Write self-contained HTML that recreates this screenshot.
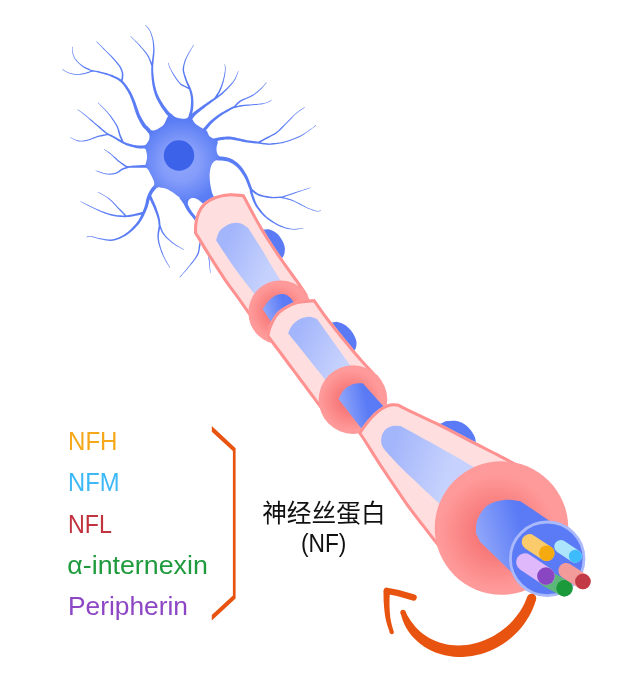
<!DOCTYPE html>
<html lang="zh"><head><meta charset="utf-8"><title>神经丝蛋白 (NF)</title>
<style>html,body{margin:0;padding:0;background:#fff}svg{display:block;will-change:transform}</style></head>
<body><svg width="643" height="699" viewBox="0 0 643 699">
<defs>
<radialGradient id="gs" gradientUnits="userSpaceOnUse" cx="181" cy="162" r="42"><stop offset="0" stop-color="#8FA6FB"/><stop offset="0.45" stop-color="#859DFA"/><stop offset="1" stop-color="#5A7DF5"/></radialGradient>
<linearGradient id="gi1" gradientUnits="userSpaceOnUse" x1="222" y1="250" x2="270" y2="270"><stop offset="0" stop-color="#A3B5FB"/><stop offset="1" stop-color="#C6D2FD"/></linearGradient>
<linearGradient id="gi2" gradientUnits="userSpaceOnUse" x1="295" y1="335" x2="345" y2="358"><stop offset="0" stop-color="#A3B5FB"/><stop offset="1" stop-color="#C6D2FD"/></linearGradient>
<linearGradient id="gi3" gradientUnits="userSpaceOnUse" x1="390" y1="450" x2="450" y2="470"><stop offset="0" stop-color="#A3B5FB"/><stop offset="1" stop-color="#C6D2FD"/></linearGradient>
<radialGradient id="gr1" gradientUnits="userSpaceOnUse" cx="278" cy="311.5" r="32.5"><stop offset="0.3" stop-color="#F77878"/><stop offset="0.85" stop-color="#FF9A9A"/></radialGradient>
<radialGradient id="gr2" gradientUnits="userSpaceOnUse" cx="350.7" cy="400.2" r="35.5"><stop offset="0.3" stop-color="#F77878"/><stop offset="0.85" stop-color="#FF9A9A"/></radialGradient>
<radialGradient id="gr3" gradientUnits="userSpaceOnUse" cx="497" cy="532" r="68"><stop offset="0.3" stop-color="#F77878"/><stop offset="0.85" stop-color="#FF9A9A"/></radialGradient>
<linearGradient id="ga1" gradientUnits="userSpaceOnUse" x1="264" y1="310" x2="284" y2="305"><stop offset="0" stop-color="#8FA5FA"/><stop offset="1" stop-color="#5A7BF5"/></linearGradient>
<linearGradient id="ga2" gradientUnits="userSpaceOnUse" x1="340" y1="400" x2="365" y2="395"><stop offset="0" stop-color="#8FA5FA"/><stop offset="1" stop-color="#5A7BF5"/></linearGradient>
<linearGradient id="ga3" gradientUnits="userSpaceOnUse" x1="478" y1="535" x2="520" y2="522"><stop offset="0" stop-color="#8FA5FA"/><stop offset="1" stop-color="#5A7BF5"/></linearGradient>
</defs>
<rect width="643" height="699" fill="#fff"/>
<path fill="#5A7DF5" d="M152.5 131.7L152 131.2L151.4 130.5L150.6 129.7L149.8 128.8L149.1 127.9L148.4 127.2L147.8 126.6L147.2 126.1L146.7 125.7L146.3 125.3L145.9 124.9L145.5 124.3L145 123.6L144.4 122.7L143.8 121.7L143.2 120.7L142.6 119.7L142 118.7L141.5 117.8L141.1 117L140.7 116.3L140.3 115.5L139.8 114.4L139.2 113L138.5 111.1L137.7 108.8L136.8 106.2L135.9 103.6L134.9 101.1L134.1 99L133.4 97.2L132.7 95.7L132.1 94.3L131.4 93L130.7 91.7L129.8 90.2L128.8 88.7L127.7 87.1L126.6 85.4L125.3 83.7L124 82.2L122.5 80.8L121 79.6L119.5 78.5L117.8 77.6L116.1 76.7L114.4 75.9L112.6 75.1L110.6 74.4L108.4 73.7L106.2 73.1L104 72.5L101.9 72L100 71.5L98.2 71.1L96.4 70.7L94.7 70.4L93.3 70.2L92 70L91.1 69.8L90.9 71L91.8 71.2L93 71.4L94.5 71.7L96.1 72.1L97.9 72.5L99.6 72.9L101.5 73.4L103.6 74L105.7 74.7L107.9 75.3L109.9 76.1L111.8 76.9L113.6 77.7L115.3 78.5L116.8 79.3L118.3 80.3L119.7 81.3L121.1 82.4L122.3 83.7L123.5 85.2L124.6 86.7L125.7 88.4L126.7 90L127.6 91.6L128.4 92.9L129.1 94.2L129.7 95.5L130.2 96.8L130.8 98.3L131.5 100L132.2 102.1L133.1 104.6L133.9 107.2L134.7 109.8L135.5 112.2L136.2 114.2L136.8 115.7L137.2 116.9L137.7 117.8L138.1 118.6L138.5 119.4L139 120.3L139.5 121.4L140.1 122.4L140.7 123.5L141.3 124.6L141.9 125.6L142.5 126.5L143.1 127.2L143.7 127.9L144.2 128.4L144.7 128.8L145.1 129.3L145.6 129.8L146.2 130.5L147 131.3L147.7 132.2L148.5 133.1L149.1 133.8L149.5 134.3ZM91.3 69.8L90.3 69.4L89 68.8L87.4 68.1L85.7 67.3L84.1 66.5L82.6 65.6L81.3 64.5L79.9 63.4L78.5 62.2L77.3 60.9L76.2 59.6L75.2 58.4L74.5 57.1L74 55.9L73.5 54.6L73.2 53.3L72.9 52.1L72.7 51L72.5 50.1L72.5 49.2L72.5 48.4L72.6 47.8L72.6 47.2L72.6 46.7L72.2 46.7L72.1 47.1L72 47.7L72 48.4L71.9 49.2L72 50.2L72.1 51.2L72.3 52.2L72.5 53.4L72.8 54.8L73.3 56.1L73.8 57.5L74.6 58.8L75.5 60.1L76.6 61.5L77.9 62.8L79.2 64.1L80.6 65.3L82 66.4L83.5 67.4L85.2 68.4L86.9 69.2L88.4 69.9L89.8 70.5L90.7 71ZM92.8 70.2L91.9 70.6L90.7 71L89.3 71.6L87.7 72.1L86.1 72.6L84.7 73L83.3 73.3L81.8 73.5L80.4 73.8L78.9 73.9L77.5 74L76.1 74L74.8 73.9L73.6 73.8L72.3 73.6L71.2 73.3L70 73L68.8 72.6L67.6 72.1L66.3 71.4L65.1 70.7L63.9 69.9L62.9 69.3L62.2 68.9L62 69.3L62.7 69.8L63.6 70.4L64.8 71.2L66 71.9L67.3 72.6L68.6 73.2L69.8 73.6L71 74L72.2 74.3L73.5 74.5L74.7 74.7L76.1 74.8L77.5 74.8L79 74.8L80.4 74.7L82 74.5L83.5 74.3L84.9 74L86.4 73.6L88 73.2L89.6 72.6L91.1 72.1L92.3 71.7L93.2 71.4ZM122.5 82.3L122.6 81.5L122.8 80.2L123.1 78.8L123.3 77.2L123.4 75.6L123.4 74.1L123.2 72.8L122.8 71.5L122.4 70.2L121.9 69.1L121.4 68L120.9 67L120.5 66.2L120 65.5L119.6 64.9L119.1 64.4L118.6 63.8L118 63.1L117.3 62.2L116.5 61.3L115.7 60.3L114.7 59.3L113.7 58.1L112.6 56.9L111.3 55.6L109.8 54.2L108.3 52.7L106.7 51.2L105.2 49.7L103.8 48.3L102.4 47L101 45.6L99.6 44.2L98.4 43L97.3 42L96.6 41.2L96.2 41.6L97 42.4L98 43.4L99.2 44.7L100.5 46.1L101.9 47.5L103.2 48.9L104.6 50.3L106.1 51.8L107.6 53.3L109.2 54.9L110.6 56.3L111.8 57.7L112.9 58.9L113.9 60L114.8 61.1L115.6 62.1L116.3 63L117 63.9L117.6 64.7L118.1 65.3L118.6 65.8L118.9 66.3L119.3 66.9L119.7 67.6L120.1 68.5L120.6 69.6L121 70.7L121.4 71.9L121.7 73.1L121.8 74.3L121.8 75.5L121.7 77L121.4 78.5L121.1 79.9L120.9 81.2L120.7 82.1ZM173 115L172.5 114.7L172 114.4L171.4 114L170.7 113.6L170 113.1L169.3 112.3L168.4 111.3L167.4 110.1L166.3 108.6L165.1 107.1L164 105.6L163 104.1L162.1 102.5L161.1 101L160.2 99.3L159.3 97.7L158.5 96.1L157.8 94.5L157.2 92.9L156.6 91.3L156.1 89.7L155.7 88L155.3 86.4L154.9 84.8L154.6 83.1L154.3 81.5L154.1 79.8L153.9 78.2L153.7 76.5L153.6 74.9L153.4 73.4L153.3 72.1L153.2 70.8L153.2 69.4L153.2 67.9L153.2 66.1L153.4 63.9L153.6 61.4L153.9 58.8L154.2 56.1L154.4 53.5L154.5 51.1L154.5 49L154.4 47L154.2 45.1L154 43.3L153.7 41.5L153.4 39.8L153 38.1L152.5 36.4L152 34.8L151.4 33.2L150.8 31.8L150.1 30.4L149.4 29.2L148.5 28.1L147.6 27L146.8 26.1L146.1 25.4L145.6 24.8L145.2 25.2L145.7 25.7L146.4 26.5L147.2 27.4L148 28.4L148.8 29.6L149.5 30.8L150.1 32.1L150.6 33.5L151.2 35L151.6 36.7L152.1 38.3L152.4 40L152.7 41.7L152.9 43.4L153 45.2L153.1 47.1L153.2 49L153.1 51.1L152.9 53.4L152.6 55.9L152.3 58.6L151.9 61.2L151.6 63.7L151.4 65.9L151.3 67.8L151.2 69.4L151.2 70.8L151.3 72.2L151.3 73.6L151.4 75.1L151.5 76.7L151.6 78.4L151.8 80.1L152 81.8L152.2 83.5L152.5 85.2L152.8 86.9L153.2 88.6L153.6 90.3L154.1 92.1L154.6 93.8L155.2 95.5L155.9 97.3L156.7 99L157.6 100.7L158.5 102.4L159.4 104.1L160.4 105.7L161.4 107.4L162.5 109L163.6 110.6L164.7 112.1L165.7 113.5L166.7 114.7L167.7 115.6L168.6 116.4L169.4 117L170.1 117.5L170.7 117.8L171 118ZM153 66.8L153 66.5L152.9 66.1L152.7 65.6L152.5 65L152.2 64.2L151.9 63.2L151.4 62.1L150.9 60.8L150.3 59.3L149.6 57.8L148.8 56.1L147.8 54.5L146.6 52.8L145.1 51L143.6 49.2L142 47.4L140.4 45.6L138.9 44L137.4 42.5L135.8 40.9L134.2 39.4L132.8 38L131.6 36.9L130.7 36L130.3 36.4L131.2 37.2L132.4 38.4L133.8 39.8L135.3 41.4L136.8 43L138.3 44.6L139.7 46.2L141.3 48L142.8 49.8L144.3 51.7L145.7 53.5L146.8 55.1L147.7 56.7L148.5 58.3L149.1 59.8L149.6 61.3L150.1 62.6L150.5 63.8L150.9 64.7L151.1 65.4L151.3 66L151.4 66.5L151.5 66.9L151.6 67.2ZM190.7 118.9L191 118L191.3 116.7L191.8 115.1L192.2 113.5L192.6 111.8L192.9 110.2L193.1 108.8L193.3 107.4L193.4 106L193.4 104.6L193.4 103.3L193.4 102L193.4 100.7L193.3 99.5L193.2 98.3L193.1 97.1L192.9 95.9L192.7 94.8L192.5 93.7L192.2 92.6L191.9 91.6L191.5 90.6L191.2 89.5L190.7 88.3L190.2 87.1L189.7 85.8L189 84.5L188.4 83.2L187.8 81.9L187.3 80.7L186.8 79.5L186.4 78.3L186 77.1L185.6 76L185.2 74.9L184.9 73.8L184.6 72.8L184.4 72L184.2 71.3L184.1 70.5L184 69.7L184.1 68.6L184.2 67.2L184.4 65.8L184.7 64.2L185.2 62.5L185.7 60.7L186.5 58.8L187.5 56.6L188.8 54L190.3 51.3L191.7 48.8L193 46.6L193.8 45L193.4 44.8L192.5 46.3L191.2 48.4L189.6 50.9L188.1 53.6L186.7 56.2L185.5 58.4L184.7 60.3L184.1 62.2L183.6 63.9L183.2 65.5L182.9 67.1L182.7 68.4L182.6 69.6L182.7 70.7L182.8 71.6L183 72.4L183.2 73.2L183.5 74.2L183.7 75.3L184.1 76.4L184.4 77.6L184.8 78.8L185.2 80.1L185.7 81.3L186.2 82.6L186.7 83.9L187.3 85.3L187.9 86.6L188.4 87.9L188.9 89.1L189.2 90.2L189.6 91.2L189.9 92.2L190.1 93.2L190.3 94.2L190.5 95.2L190.7 96.3L190.8 97.4L190.9 98.5L191 99.6L191 100.8L191 102L191 103.2L190.9 104.5L190.8 105.8L190.7 107.1L190.5 108.4L190.3 109.8L190 111.2L189.5 112.7L189 114.4L188.6 115.9L188.2 117.2L187.9 118.1ZM190.1 88.2L189.6 88L188.9 87.6L188 87.2L187.1 86.8L186.2 86.3L185.3 85.9L184.5 85.5L183.7 85.1L182.9 84.8L182.1 84.3L181.3 83.8L180.4 83L179.4 81.9L178.3 80.5L177.2 79L176.1 77.4L175 75.8L174.1 74.5L173.3 73.2L172.6 72L171.9 70.9L171.3 69.8L170.8 68.8L170.3 67.8L169.9 66.8L169.5 65.8L169.1 64.9L168.9 64L168.6 63.3L168.4 62.8L168 63L168.1 63.5L168.3 64.2L168.6 65.1L168.9 66L169.3 67L169.7 68L170.2 69.1L170.7 70.1L171.2 71.2L171.9 72.4L172.6 73.7L173.3 74.9L174.2 76.4L175.2 77.9L176.3 79.6L177.5 81.2L178.5 82.6L179.6 83.8L180.5 84.7L181.4 85.4L182.3 85.9L183.1 86.3L183.9 86.7L184.7 87.1L185.5 87.6L186.5 88.1L187.4 88.6L188.2 89L188.9 89.3L189.5 89.6ZM191 121.1L191.5 120.5L192 119.6L192.7 118.6L193.5 117.5L194.2 116.5L194.9 115.7L195.6 115L196.2 114.4L196.9 113.8L197.6 113.2L198.5 112.5L199.5 111.7L200.7 110.7L202.1 109.6L203.6 108.4L205.1 107.2L206.6 106.1L208 105L209.4 104L210.8 102.9L212.2 101.8L213.5 100.9L214.6 100.1L215.4 99.5L214.2 97.9L213.4 98.4L212.3 99.2L211 100L209.5 101L208 102L206.6 103L205.1 104L203.6 105.1L202 106.2L200.4 107.3L198.9 108.4L197.7 109.3L196.6 110L195.7 110.7L194.9 111.3L194.1 111.9L193.3 112.6L192.5 113.3L191.6 114.3L190.7 115.4L189.8 116.4L189.1 117.5L188.4 118.3L188 118.9ZM215.6 99.2L216.1 98.3L216.9 97.2L217.8 95.7L218.7 94.1L219.7 92.5L220.5 90.8L221.2 89.2L221.8 87.4L222.5 85.6L223 83.8L223.6 81.9L224 80.1L224.4 78.3L224.8 76.5L225.1 74.7L225.4 72.9L225.5 71.3L225.7 69.8L225.7 68.5L225.6 67.4L225.4 66.3L225.2 65.4L225 64.7L224.9 64.2L224.5 64.2L224.5 64.8L224.7 65.5L224.8 66.4L224.9 67.4L225 68.5L224.9 69.8L224.8 71.2L224.5 72.8L224.2 74.5L223.9 76.3L223.4 78.1L223 79.9L222.4 81.6L221.9 83.4L221.2 85.2L220.6 86.9L219.8 88.6L219.1 90.2L218.3 91.7L217.3 93.3L216.3 94.8L215.4 96.2L214.6 97.3L214 98.2ZM214 100.5L214.4 100.2L215 99.8L215.6 99.4L216.3 98.9L217.1 98.3L217.8 97.8L218.5 97.3L219.2 96.7L220 96.1L220.8 95.5L221.7 94.7L222.7 93.9L223.8 92.8L225.1 91.6L226.4 90.3L227.7 88.9L229 87.6L230.1 86.4L231.1 85.3L232 84.3L232.8 83.2L233.6 82.2L234.3 81.1L235.1 79.9L235.8 78.5L236.5 76.8L237.2 75.1L237.8 73.5L238.3 72.1L238.6 71.1L238.2 70.9L237.8 71.9L237.2 73.2L236.6 74.8L235.8 76.5L235.1 78.1L234.3 79.5L233.6 80.6L232.8 81.7L232.1 82.6L231.2 83.6L230.3 84.6L229.3 85.6L228.1 86.8L226.9 88L225.5 89.3L224.1 90.6L222.8 91.7L221.7 92.7L220.7 93.6L219.8 94.3L219 94.8L218.3 95.4L217.5 95.9L216.8 96.4L216.1 96.9L215.3 97.4L214.6 97.9L213.9 98.3L213.4 98.7L213 98.9ZM200.4 137.1L200.7 136.7L201.2 136.2L201.7 135.5L202.2 134.8L202.8 134.1L203.3 133.4L203.8 132.8L204.2 132.3L204.7 131.8L205.2 131.2L205.8 130.5L206.6 129.6L207.5 128.5L208.5 127.3L209.6 126L210.7 124.6L212 123.3L213.3 122.1L214.6 120.8L216.1 119.6L217.7 118.3L219.3 117.1L221 115.8L222.8 114.6L224.8 113.3L227.2 112L229.6 110.6L231.8 109.3L233.7 108.3L235.1 107.5L234.3 105.9L232.9 106.6L230.9 107.6L228.6 108.8L226.1 110.1L223.7 111.4L221.6 112.6L219.7 113.8L217.9 115L216.1 116.2L214.4 117.5L212.9 118.7L211.3 119.9L209.9 121.3L208.6 122.6L207.3 124L206.1 125.3L205.1 126.4L204.2 127.4L203.4 128.2L202.8 128.9L202.2 129.5L201.7 130.1L201.2 130.6L200.7 131.2L200.1 131.9L199.5 132.6L198.9 133.3L198.4 133.9L197.9 134.5L197.6 134.9ZM235.3 107.2L235.8 106.6L236.4 105.8L237.2 104.9L238.1 103.9L239.1 102.9L240.4 101.9L242 101L244 100L246.2 99L248.5 98L250.7 96.9L252.7 95.9L254.4 94.7L256 93.6L257.5 92.4L258.9 91.2L260.1 90L261.4 88.9L262.5 87.7L263.6 86.5L264.6 85.3L265.4 84.2L266.2 83.2L266.7 82.6L266.3 82.2L265.7 82.9L265 83.8L264.1 84.9L263.1 86L262 87.2L260.8 88.3L259.6 89.4L258.3 90.5L256.9 91.7L255.4 92.8L253.8 93.9L252.1 94.9L250.2 95.9L248 96.9L245.7 97.9L243.5 98.8L241.4 99.7L239.6 100.7L238.2 101.7L237 102.8L236 103.9L235.2 104.8L234.6 105.6L234.1 106.2ZM232.7 108.6L233.7 108.3L235.1 108L236.8 107.6L238.6 107.1L240.5 106.7L242.2 106.4L243.8 106.1L245.5 106L247.1 105.8L248.8 105.7L250.6 105.5L252.5 105.3L254.5 105.1L256.7 104.9L258.9 104.6L261.1 104.4L263.2 104L265 103.6L266.6 103.1L268 102.5L269.2 101.8L270.3 101.2L271.2 100.6L271.8 100.2L271.6 99.8L270.9 100.2L270 100.7L268.9 101.3L267.7 101.9L266.3 102.5L264.8 103L263.1 103.3L261 103.5L258.8 103.8L256.6 103.9L254.4 104.1L252.3 104.3L250.5 104.4L248.7 104.5L247 104.6L245.3 104.7L243.7 104.8L242 105L240.2 105.3L238.3 105.7L236.5 106.1L234.8 106.4L233.3 106.8L232.3 107ZM211.6 143L212.2 142.8L212.9 142.5L213.8 142.1L214.7 141.7L215.6 141.4L216.4 141.1L217.2 140.9L217.9 140.7L218.7 140.5L219.5 140.4L220.3 140.2L221.4 140.1L222.6 139.9L223.9 139.8L225.4 139.6L226.8 139.5L228.2 139.4L229.6 139.4L231 139.5L232.4 139.7L233.8 139.9L235.2 140.2L236.7 140.5L238.1 140.7L239.6 141L241 141.3L242.4 141.7L243.9 142L245.5 142.3L247.1 142.5L249 142.8L251.2 143L253.4 143.2L255.4 143.4L257.2 143.5L258.4 143.6L258.6 141.6L257.4 141.5L255.6 141.3L253.6 141.1L251.4 140.8L249.3 140.5L247.5 140.3L245.9 140L244.4 139.6L243 139.3L241.5 138.9L240.1 138.6L238.7 138.3L237.2 137.9L235.7 137.6L234.3 137.3L232.8 137L231.3 136.8L229.8 136.6L228.2 136.6L226.6 136.6L225.1 136.7L223.6 136.8L222.2 137L221 137.1L219.9 137.2L219 137.4L218.1 137.5L217.2 137.7L216.4 137.9L215.6 138.1L214.6 138.4L213.6 138.7L212.6 139.1L211.7 139.5L210.9 139.8L210.4 140ZM258.9 143.4L259.5 143L260.3 142.6L261.2 142L262.2 141.4L263.3 140.8L264.4 140.2L265.5 139.6L266.8 138.9L268.1 138.2L269.5 137.5L270.8 136.8L271.9 136.1L272.9 135.6L273.8 135.2L274.6 134.8L275.5 134.3L276.5 133.6L277.7 132.6L279.2 131.3L280.8 129.7L282.5 127.9L284.3 126L286 124.2L287.7 122.5L289.2 121L290.6 119.4L292 117.9L293.4 116.5L294.8 115.1L296.2 113.8L297.8 112.5L299.4 111.3L301.1 110.1L302.6 109L303.9 108.2L304.8 107.5L304.6 107.1L303.6 107.7L302.3 108.6L300.7 109.6L299 110.8L297.3 112L295.8 113.2L294.3 114.5L292.9 115.9L291.4 117.3L290 118.8L288.5 120.3L286.9 121.9L285.3 123.5L283.5 125.3L281.7 127.1L279.9 128.8L278.3 130.4L276.9 131.6L275.7 132.5L274.8 133.1L274 133.6L273.2 133.9L272.3 134.3L271.3 134.9L270.1 135.5L268.8 136.2L267.4 136.8L266.1 137.5L264.8 138.2L263.6 138.8L262.5 139.4L261.4 140L260.4 140.6L259.4 141.1L258.6 141.5L258.1 141.8ZM254.9 143.2L255.9 143.3L257.2 143.5L258.9 143.8L260.6 144.1L262.4 144.3L263.9 144.5L265.2 144.6L266.4 144.7L267.5 144.8L268.7 144.9L270.1 144.8L271.7 144.7L273.5 144.5L275.6 144.3L277.8 144L280.1 143.6L282.5 143.2L284.9 142.6L287.3 141.8L289.8 141L292.4 140.1L295 139L297.5 138L299.8 136.9L302 135.7L304 134.4L306 133.1L307.9 131.8L309.5 130.6L311 129.6L312.2 128.6L313.3 127.8L314.2 127.1L315 126.4L315.6 125.9L316.1 125.5L315.7 125.1L315.3 125.5L314.6 126L313.9 126.6L313 127.4L311.9 128.2L310.6 129L309.1 130.1L307.5 131.2L305.6 132.5L303.6 133.8L301.5 135L299.4 136.1L297.1 137.1L294.7 138.1L292.1 139.1L289.5 140L287 140.8L284.5 141.4L282.2 142L279.9 142.4L277.6 142.7L275.4 143L273.4 143.1L271.5 143.3L270 143.4L268.7 143.4L267.6 143.3L266.5 143.2L265.4 143.1L264.1 142.9L262.6 142.7L260.9 142.4L259.2 142.2L257.5 141.9L256.1 141.6L255.1 141.4ZM212.9 160.1L213.4 160.2L214.1 160.2L214.9 160.2L215.9 160.3L217 160.3L218.2 160.5L219.7 160.6L221.4 160.6L223.1 160.7L224.9 160.9L226.5 161.2L228.1 161.6L229.6 162.2L231.1 162.9L232.6 163.7L234 164.7L235.4 165.8L236.8 166.9L238.1 168.3L239.4 169.8L240.7 171.5L241.9 173.2L243.1 175L244.1 176.7L245.1 178.5L246 180.5L246.8 182.5L247.6 184.5L248.3 186.2L248.8 187.7L249.3 188.8L249.6 189.6L249.8 190.2L250 190.7L250.2 191.1L250.3 191.4L252.7 190.6L252.6 190.2L252.5 189.9L252.3 189.4L252.1 188.7L251.8 187.8L251.4 186.7L250.9 185.3L250.2 183.5L249.5 181.5L248.7 179.4L247.8 177.3L246.9 175.3L245.8 173.4L244.6 171.5L243.4 169.6L242.1 167.7L240.7 166L239.2 164.5L237.7 163.1L236.1 161.8L234.5 160.7L232.8 159.6L231.1 158.8L229.3 158L227.4 157.4L225.4 157L223.5 156.8L221.6 156.6L220 156.5L218.6 156.3L217.3 156.2L216.2 156.1L215.2 156L214.3 155.9L213.6 155.9L213.1 155.9ZM249.9 189.6L250.7 190.2L251.8 191.2L253.1 192.3L254.6 193.5L256.3 194.6L258.1 195.5L260.1 196.2L262.3 196.8L264.7 197.3L267.1 197.7L269.4 198L271.5 198.2L273.7 198.3L275.9 198.2L278.1 198L280 197.8L281.7 197.6L282.9 197.5L282.7 196.3L281.5 196.4L279.9 196.5L278 196.7L275.9 196.8L273.7 196.9L271.7 196.8L269.6 196.5L267.3 196.1L265 195.7L262.8 195.2L260.7 194.5L258.9 193.9L257.3 193L255.8 192L254.4 190.8L253.1 189.7L252.1 188.7L251.3 188ZM283 197.5L284.6 196.9L286.9 196.1L289.6 195.2L292.5 194.2L295.3 193.2L297.8 192.3L300.3 191.5L302.8 190.6L305.3 189.7L307.6 189L309.5 188.3L310.9 187.8L310.7 187.4L309.3 187.8L307.4 188.4L305.1 189.1L302.6 189.9L300 190.7L297.6 191.5L295 192.3L292.2 193.2L289.3 194.2L286.6 195.1L284.3 195.8L282.6 196.3ZM279.9 197.8L281.2 198.1L282.9 198.4L285 198.8L287.3 199.4L289.6 200L291.9 200.8L294.3 201.8L296.9 203L299.5 204.4L302.1 205.7L304.6 207L306.8 208L308.8 208.9L310.6 209.6L312.2 210.2L313.7 210.7L315.1 211.1L316.3 211.4L317.5 211.5L318.5 211.4L319.3 211.3L320.1 211.1L320.6 210.9L321.1 210.7L320.9 210.3L320.5 210.4L319.9 210.6L319.2 210.8L318.4 210.9L317.5 210.9L316.5 210.8L315.3 210.5L313.9 210.1L312.5 209.6L310.8 209L309.1 208.2L307.2 207.4L305 206.3L302.5 205L299.9 203.6L297.3 202.2L294.7 200.9L292.3 199.8L289.9 199L287.5 198.3L285.2 197.7L283.2 197.3L281.4 196.9L280.1 196.6ZM249.6 189.2L249.6 189.7L249.7 190.4L249.9 191.4L250.1 192.4L250.4 193.7L250.9 195.1L251.4 196.6L252.1 198.4L252.8 200.4L253.7 202.4L254.7 204.5L255.8 206.4L257.1 208.3L258.6 210.3L260.1 212.2L261.8 214.1L263.6 215.9L265.5 217.6L267.5 219.2L269.7 220.8L271.9 222.2L274.3 223.6L276.6 224.9L278.8 225.9L281.1 226.9L283.3 227.7L285.6 228.4L287.8 228.9L290 229.3L292.1 229.6L294.2 229.7L296.4 229.5L298.6 229.3L300.5 228.9L302.1 228.6L303.3 228.4L303.3 228L302.1 228.1L300.4 228.4L298.5 228.6L296.4 228.8L294.2 228.9L292.1 228.8L290.1 228.5L288 228L285.9 227.4L283.7 226.7L281.5 225.8L279.4 224.9L277.2 223.7L274.9 222.5L272.7 221.1L270.5 219.6L268.4 218L266.5 216.4L264.8 214.7L263.1 212.9L261.5 211L260.1 209.1L258.7 207.2L257.6 205.4L256.5 203.5L255.6 201.5L254.9 199.6L254.2 197.7L253.6 195.9L253.1 194.3L252.7 193L252.5 191.9L252.3 190.9L252.2 190.1L252.1 189.4L252 188.8ZM150 145.4L148.6 145.4L146.7 145.5L144.5 145.5L142.1 145.6L139.9 145.5L137.9 145.4L136.2 145.2L134.6 145L133 144.7L131.5 144.3L130.1 143.9L128.8 143.6L127.6 143.2L126.6 142.9L125.6 142.5L124.7 142.1L123.8 141.7L122.7 141.2L121.5 140.5L120.2 139.8L118.9 139L117.6 138.2L116.2 137.4L114.8 136.6L113.4 135.9L111.9 135.1L110.4 134.4L109 133.8L107.9 133.2L107 132.8L106.4 134.2L107.2 134.6L108.3 135.2L109.7 135.9L111.2 136.7L112.6 137.4L114 138.2L115.2 139L116.5 139.8L117.9 140.7L119.2 141.5L120.5 142.3L121.7 143L122.8 143.6L123.8 144.1L124.8 144.6L125.7 145L126.8 145.4L128 145.8L129.4 146.3L130.9 146.7L132.4 147.1L134.1 147.5L135.8 147.9L137.7 148.2L139.7 148.4L142.1 148.5L144.5 148.5L146.7 148.6L148.6 148.6L150 148.6ZM107.2 132.9L106 131.9L104.4 130.5L102.4 128.9L100.3 127.1L98.2 125.4L96.2 123.7L94.3 122.2L92.4 120.6L90.5 118.9L88.6 117.4L86.8 115.9L85.1 114.6L83.6 113.4L82.1 112.3L80.6 111.3L79.4 110.5L78.3 109.7L77.5 109.2L77.3 109.6L78 110.2L79.1 110.9L80.3 111.8L81.7 112.8L83.1 114L84.7 115.2L86.2 116.6L88 118.1L89.8 119.7L91.7 121.4L93.6 123L95.4 124.7L97.3 126.3L99.4 128.2L101.5 130L103.4 131.7L105 133.1L106.2 134.1ZM124 142.3L123.6 141.5L123.1 140.4L122.5 139.1L121.9 137.7L121.2 136.3L120.6 134.8L120.2 133.5L119.8 132.1L119.4 130.6L118.9 129L118.2 127.3L117.4 125.5L116.2 123.6L114.9 121.5L113.4 119.3L111.8 117.1L110.2 115L108.5 113L106.8 111L104.8 109L102.8 107L101 105.2L99.4 103.7L98.3 102.6L97.9 103L99 104.1L100.6 105.7L102.4 107.5L104.3 109.5L106.2 111.6L107.9 113.6L109.4 115.6L111 117.7L112.5 119.9L113.9 122.1L115.2 124.2L116.2 126.1L117 127.8L117.6 129.4L118 130.9L118.3 132.4L118.7 133.9L119.2 135.4L119.7 136.9L120.4 138.4L121 139.8L121.6 141.1L122 142.3L122.4 143.1ZM108.3 133.5L107.1 133.8L105.4 134.2L103.3 134.6L101.2 135.1L99 135.6L97.1 136.1L95.4 136.7L93.8 137.3L92.3 138L90.8 138.6L89.4 139.2L87.9 139.6L86.3 140L84.8 140.3L83.3 140.6L81.7 140.7L80.2 140.7L78.8 140.6L77.2 140.3L75.6 139.7L73.9 139L72.4 138.2L71.1 137.6L70.2 137.2L70 137.6L70.9 138.1L72.2 138.8L73.7 139.5L75.3 140.3L77 141L78.6 141.4L80.2 141.5L81.8 141.5L83.4 141.4L85 141.2L86.5 140.9L88.1 140.6L89.7 140.2L91.2 139.6L92.7 139L94.3 138.4L95.8 137.8L97.5 137.3L99.3 136.8L101.4 136.4L103.6 136L105.7 135.6L107.4 135.3L108.7 135.1ZM151 164.7L149.5 164.8L147.5 164.9L145.1 165L142.5 165.1L140 165.2L137.8 165.3L135.7 165.5L133.5 165.6L131.5 165.8L129.6 165.9L128 166L126.9 166.1L126.9 167.9L128.1 167.9L129.7 167.8L131.6 167.8L133.6 167.7L135.8 167.7L137.8 167.7L140.1 167.7L142.5 167.7L145.1 167.7L147.5 167.7L149.6 167.7L151 167.7ZM127.4 166.3L126.5 165.7L125.3 164.9L123.9 164L122.4 163L120.9 162L119.5 161L118.2 159.9L116.9 158.8L115.6 157.6L114.2 156.4L112.9 155.2L111.6 154.2L110.2 153.1L108.8 152.1L107.4 151.1L106 150.2L104.9 149.4L104.1 148.9L103.9 149.3L104.6 149.9L105.7 150.7L107 151.6L108.3 152.7L109.7 153.8L111 154.8L112.3 156L113.5 157.2L114.8 158.4L116.1 159.7L117.4 160.9L118.7 162L120.1 163.1L121.6 164.3L123 165.3L124.4 166.3L125.6 167.1L126.4 167.7ZM128.7 166.2L128 166.4L127 166.7L125.7 167.1L124.4 167.6L123.1 168.1L121.9 168.6L120.8 169.3L119.8 170L118.8 170.8L117.9 171.5L116.9 172.1L115.8 172.6L114.5 173L113.1 173.3L111.6 173.5L110 173.6L108.4 173.7L106.8 173.5L104.9 173.2L102.8 172.7L100.6 172L98.6 171.3L96.8 170.8L95.6 170.4L95.4 170.8L96.7 171.3L98.4 171.9L100.4 172.7L102.6 173.4L104.7 174L106.6 174.5L108.4 174.6L110.1 174.7L111.7 174.6L113.3 174.4L114.8 174.1L116.2 173.8L117.5 173.3L118.6 172.6L119.7 171.9L120.6 171.2L121.6 170.5L122.5 170L123.7 169.5L124.9 169.1L126.2 168.7L127.5 168.3L128.5 168.1L129.3 167.8ZM156.6 182.6L155.9 183.3L155 184.3L153.9 185.5L152.7 186.8L151.6 188.1L150.6 189.4L149.8 190.8L149.1 192.1L148.4 193.4L147.8 194.8L147.3 196.1L146.8 197.4L146.4 198.8L146.1 200.1L145.9 201.3L145.6 202.5L145.4 203.7L145 205L144.6 206.4L144.1 208L143.5 209.5L142.9 211.1L142.3 212.6L141.5 214.2L140.8 215.7L140.1 217.3L139.3 218.7L138.5 220.2L137.5 221.8L136.3 223.3L134.8 225L133.1 226.8L131.3 228.7L129.4 230.5L127.4 232.2L125.5 233.6L123.5 234.9L121.4 236.1L119.2 237.2L117.1 238.1L114.9 238.8L112.8 239.3L110.7 239.5L108.5 239.5L106.3 239.3L104.1 238.9L102 238.5L100 238.2L98.2 237.9L96.4 237.5L94.8 237L93.2 236.5L91.8 236.2L90.5 236L89.4 236L88.5 236.1L87.8 236.3L87.2 236.6L86.7 236.8L86.3 237L86.5 237.4L86.9 237.3L87.4 237.1L88 236.9L88.6 236.7L89.5 236.6L90.5 236.6L91.6 236.9L93 237.2L94.5 237.7L96.2 238.3L98 238.8L99.8 239.2L101.8 239.6L103.9 240L106.1 240.4L108.4 240.7L110.7 240.9L113 240.7L115.3 240.2L117.6 239.6L119.9 238.7L122.2 237.6L124.4 236.5L126.5 235.2L128.6 233.7L130.8 232.1L132.8 230.3L134.8 228.4L136.5 226.6L138.1 224.9L139.5 223.2L140.6 221.6L141.6 220L142.5 218.5L143.3 216.9L144.1 215.4L144.8 213.8L145.6 212.2L146.3 210.6L146.9 209L147.5 207.4L148 206L148.4 204.6L148.8 203.2L149 202L149.3 200.8L149.6 199.7L150 198.6L150.5 197.4L151 196.2L151.6 194.9L152.2 193.8L152.9 192.6L153.6 191.6L154.5 190.5L155.5 189.3L156.7 188.1L157.8 187L158.7 186.1L159.4 185.4ZM144 211.5L142.8 211.8L141.2 212.2L139.2 212.8L137.1 213.3L135.1 213.8L133.3 214.2L131.7 214.5L130.2 214.8L128.8 215.1L127.4 215.3L125.8 215.4L124.1 215.4L122.2 215.4L120.2 215.3L118 215.2L115.8 214.9L113.6 214.6L111.3 214.1L108.9 213.5L106.5 212.7L104 211.8L101.4 210.9L98.9 209.8L96.3 208.8L93.5 207.5L90.5 206.1L87.4 204.6L84.6 203.2L82.2 202L80.4 201.2L80.2 201.6L81.9 202.5L84.3 203.8L87.1 205.3L90.1 206.8L93.1 208.3L95.9 209.6L98.5 210.8L101 211.9L103.6 213L106.1 213.9L108.5 214.8L110.9 215.5L113.3 216L115.6 216.5L117.9 216.8L120.1 217L122.1 217.1L124.1 217.2L125.9 217.2L127.5 217.1L129.1 216.9L130.6 216.7L132.1 216.5L133.7 216.2L135.6 215.8L137.6 215.4L139.8 214.9L141.7 214.4L143.4 214L144.6 213.7ZM126.5 215.5L125.7 214.7L124.6 213.6L123.3 212.3L121.9 210.8L120.4 209.3L118.9 207.9L117.5 206.4L116 204.8L114.4 203.2L112.8 201.6L111.2 200L109.5 198.6L107.5 197.2L105.4 195.9L103.2 194.6L101.1 193.4L99.4 192.5L98.1 191.8L97.9 192.2L99.1 193L100.8 194L102.9 195.1L105 196.5L107.1 197.8L108.9 199.2L110.6 200.7L112.2 202.2L113.7 203.9L115.2 205.6L116.7 207.2L118.1 208.7L119.5 210.2L121 211.7L122.4 213.2L123.6 214.5L124.7 215.7L125.5 216.5ZM148 195.6L148.6 197L149.5 198.8L150.6 201L151.7 203.4L152.8 205.7L153.7 207.8L154.5 209.7L155.3 211.7L156 213.6L156.7 215.4L157.2 217.2L157.7 218.7L158 220.2L158.3 221.7L158.4 223L158.5 224.3L158.6 225.3L158.7 226.1L160.5 225.9L160.4 225.2L160.4 224.1L160.3 222.9L160.2 221.4L160 219.9L159.7 218.3L159.3 216.6L158.8 214.7L158.2 212.8L157.5 210.9L156.8 208.8L156.1 206.8L155.2 204.7L154.2 202.3L153.1 199.9L152.1 197.6L151.2 195.7L150.6 194.4ZM158.7 225.9L158.5 227.1L158.2 228.7L157.9 230.8L157.6 233L157.4 235.2L157.4 237.2L157.6 239.1L157.9 241L158.3 242.9L158.8 244.8L159.4 246.7L160 248.6L160.7 250.5L161.4 252.4L162.3 254.4L163.1 256.3L164 258.1L164.9 259.8L165.7 261.4L166.7 263L167.6 264.5L168.4 265.8L169.2 266.9L169.7 267.7L170.1 267.5L169.6 266.6L168.9 265.5L168.1 264.1L167.2 262.6L166.4 261L165.5 259.4L164.8 257.7L163.9 255.9L163.1 254L162.4 252.1L161.6 250.1L161 248.2L160.5 246.4L160 244.5L159.5 242.7L159.2 240.8L158.9 239L158.8 237.2L158.9 235.3L159.1 233.2L159.5 231L159.9 229.1L160.2 227.4L160.5 226.1ZM158.2 223.3L158.6 224.4L159.2 226L159.9 227.9L160.7 230L161.6 232L162.8 233.9L164.1 235.5L165.5 237.2L167.1 238.8L168.8 240.3L170.6 241.8L172.3 243.2L174.3 244.5L176.4 245.9L178.6 247.1L180.7 248.3L182.4 249.2L183.7 249.9L183.9 249.5L182.7 248.7L181 247.7L179 246.5L176.8 245.2L174.7 243.8L172.9 242.4L171.2 241L169.5 239.5L167.9 238L166.4 236.4L165 234.8L163.8 233.1L162.9 231.4L162 229.4L161.3 227.4L160.7 225.5L160.2 223.9L159.8 222.7ZM179.5 198L180.1 198.9L181 200.1L182 201.6L183 203.1L184 204.6L184.8 205.8L185.4 206.9L185.9 207.8L186.4 208.7L186.9 209.7L187.5 210.7L188.2 211.9L189.1 213.1L190.2 214.4L191.3 215.7L192.4 217.1L193.4 218.4L194.2 219.6L195 220.8L195.7 222.1L196.4 223.5L196.9 224.7L197.4 225.8L197.8 226.6L200.2 225.4L199.8 224.7L199.4 223.6L198.8 222.3L198.1 220.9L197.4 219.4L196.6 218L195.7 216.7L194.7 215.3L193.6 213.9L192.5 212.6L191.6 211.3L190.8 210.1L190.2 209.1L189.7 208.2L189.2 207.3L188.8 206.4L188.2 205.3L187.6 204.2L186.8 202.8L185.8 201.3L184.8 199.7L183.9 198.2L183 196.9L182.5 196ZM200.7 237.8L200.5 238.5L200.3 239.4L200 240.5L199.7 241.7L199.4 243.1L199.1 244.4L198.8 245.9L198.6 247.5L198.5 249.1L198.2 250.8L197.8 252.5L197.1 254.1L196.3 255.8L195.2 257.6L193.9 259.4L192.6 261.2L191.1 263.1L189.7 265L188 267.1L186.1 269.4L184.1 271.8L182.2 273.9L180.6 275.8L179.5 277.1L179.9 277.5L181.1 276.2L182.7 274.3L184.6 272.2L186.7 269.9L188.6 267.6L190.3 265.6L191.9 263.7L193.4 261.9L194.8 260L196.1 258.2L197.3 256.4L198.3 254.7L199 252.9L199.5 251.1L199.8 249.3L200 247.7L200.3 246.1L200.5 244.8L200.9 243.4L201.2 242.1L201.5 240.9L201.9 239.8L202.1 238.9L202.3 238.2ZM208.1 256.1L208.2 256.7L208.4 257.7L208.5 258.8L208.7 259.9L208.9 261L209 262L209.1 262.9L209.1 263.7L209.2 264.5L209.2 265.3L209.3 266.2L209.4 267L209.5 268L209.7 269.2L209.8 270.3L210 271.4L210.2 272.3L210.3 272.9L210.7 272.9L210.7 272.2L210.5 271.3L210.4 270.2L210.3 269.1L210.1 268L210 267L210 266.1L209.9 265.3L209.9 264.5L209.9 263.7L209.9 262.9L209.8 262L209.7 260.9L209.6 259.8L209.4 258.6L209.3 257.5L209.2 256.6L209.1 255.9Z"/>
<path fill="url(#gs)" d="M140 146.2C140.8 146.1 143.4 146.2 144.6 145.6C145.8 145 146.6 143.8 147.4 142.6C148.2 141.4 149.2 139.7 149.4 138.2C149.7 136.7 149.4 134.8 148.9 133.5C148.4 132.2 146.9 130.8 146.5 130.2L148.5 127.5C149 128 150.2 130.1 151.7 130.4C153.2 130.7 155.3 130.1 157.3 129.2C159.3 128.3 161.9 126.8 163.6 124.8C165.2 122.8 166.6 118.7 167.2 117.5L169.8 113C170.6 113.6 172.9 115.8 174.8 116.7C176.7 117.6 179.2 118.3 181 118.6C182.8 118.9 184.7 118.9 185.9 118.6C187.1 118.3 188 117 188.4 116.7L190.5 117.5C190.9 117.9 192.4 119.4 192.8 119.8L192.8 119.8C193 120.2 193.2 121.2 193.9 122C194.6 122.8 195.1 123.6 196.7 124.8C198.3 126 202.4 128.4 203.6 129.1L207 131C207.5 131.9 208.2 135.2 209.8 136.6C211.4 138 215.5 139.2 216.6 139.7L217.9 142.2C217.7 143.2 216.6 146.1 216.5 148C216.4 149.9 216.7 152.1 217.2 153.5C217.7 154.9 219.1 156 219.5 156.5L218.4 159.6C217.7 159.9 215.2 160.3 214 161.5C212.8 162.7 211.6 164.4 210.9 166.7C210.2 168.9 209.7 172 209.6 175C209.5 178 209.8 181.4 210.4 184.9C211.1 188.4 211.6 192.6 213.5 196.1C215.4 199.6 220.6 204.3 222 206L215 214C212.9 212.2 205.2 205.5 202.3 203C199.4 200.5 199 200 197.3 199.2C195.6 198.4 193.8 197.8 192.3 198C190.8 198.2 189.2 199.2 188.5 200.5C187.8 201.8 187.6 204 188 206C188.4 208 189.8 210.4 191.1 212.3C192.4 214.2 195.2 216.5 196 217.3L194.8 219.8C193.4 217.9 187.8 211.3 186.1 208.6C184.3 205.9 184.7 204.8 184.3 203.6C183.9 202.3 184.9 202.5 183.6 201.1C182.2 199.7 178.9 196.9 176.2 194.9C173.5 192.9 170.2 190.6 167.5 189.3C164.8 188.1 161.8 187.6 160 187.4C158.2 187.2 157.1 187.9 156.5 188L152 187.5C152.4 187.1 154.1 186.4 154.3 185.2C154.5 183.9 154 181.7 153.4 180C152.8 178.3 151.9 176.8 151 175C150.1 173.2 148.9 170.7 148 169.5C147.1 168.3 145.9 167.9 145.5 167.6L145.3 165C145.6 163.7 147.1 159.6 147.1 156.9C147.1 154.2 146.2 150.6 145.5 149.1C144.8 147.6 143.4 148 143 147.8Z"/>
<circle cx="179" cy="155.5" r="15.2" fill="#3D62EA"/>
<path fill="#5A7BF5" d="M261 225.5C261.4 226.1 262.1 228.7 263.4 229.3C264.7 229.9 266.7 228.7 268.9 229.3C271.1 230 274.5 231.4 276.7 233.2C278.9 235 280.8 237.9 282.1 240.2C283.4 242.5 284.3 245 284.7 247.2C285.1 249.4 284.8 251.6 284.4 253.4C284 255.2 283 257.1 282.1 258.1C281.2 259.1 279.5 259.3 279 259.5Z"/>
<path fill="#5A7BF5" d="M328.5 319.5C328.9 320 329.6 322.3 331.1 322.7C332.6 323.1 335 321.5 337.3 321.9C339.6 322.3 342.6 323.3 345.1 325C347.6 326.7 350.3 329.5 352.1 332C353.9 334.5 355.3 337.5 356 339.8C356.7 342.1 356.6 344.2 356.3 346C356 347.8 355.2 349.7 354.4 350.7C353.6 351.7 352 351.8 351.5 352Z"/>
<path fill="#5A7BF5" d="M436 422.3C436.7 422.6 438.4 424 440.2 423.8C442 423.6 444.2 421.6 447 421.1C449.8 420.7 453.6 420.3 456.9 421.1C460.2 421.9 464 423.6 466.9 426.1C469.8 428.6 472.9 433.1 474.4 436C475.8 438.9 475.8 442 475.6 443.5C475.4 445 473.4 444.8 473 445Z"/>
<clipPath id="c1"><path d="M254 323C252.9 321.4 250.1 317.5 247.2 313.3C244.2 309.1 240.2 303.2 236.3 297.8C232.4 292.4 228.6 287.6 223.9 280.7C219.2 273.8 213.3 264.4 208.3 256.5C203.3 248.6 196.4 237.1 194 233.2C194.1 231.5 193.9 226.4 194.5 222.9C195.1 219.4 195.8 215.8 197.3 212.4C198.8 209.1 200.8 205.5 203.7 202.8C206.6 200.1 210.9 197.8 215 196.2C219.1 194.6 223.6 193.7 228.5 193.4C233.4 193.1 241.7 194.2 244.3 194.3C247.5 200.1 257.1 218.7 263.4 229.3C269.7 239.9 276 249.2 282.1 258.1C288.2 267.1 295.7 276.9 300 283C304.3 289.1 306.7 293 308 295Z"/></clipPath>
<path d="M254 323C252.9 321.4 250.1 317.5 247.2 313.3C244.2 309.1 240.2 303.2 236.3 297.8C232.4 292.4 228.6 287.6 223.9 280.7C219.2 273.8 213.3 264.4 208.3 256.5C203.3 248.6 196.4 237.1 194 233.2C194.1 231.5 193.9 226.4 194.5 222.9C195.1 219.4 195.8 215.8 197.3 212.4C198.8 209.1 200.8 205.5 203.7 202.8C206.6 200.1 210.9 197.8 215 196.2C219.1 194.6 223.6 193.7 228.5 193.4C233.4 193.1 241.7 194.2 244.3 194.3C247.5 200.1 257.1 218.7 263.4 229.3C269.7 239.9 276 249.2 282.1 258.1C288.2 267.1 295.7 276.9 300 283C304.3 289.1 306.7 293 308 295Z" fill="#FEDEDE" stroke="#FF9191" stroke-width="6" stroke-linejoin="miter" clip-path="url(#c1)"/>
<path d="M262 304C260.8 302.4 259.5 300.7 255 294.7C250.5 288.7 241.3 277.3 234.8 268.2C228.3 259.1 219.2 244.9 216.1 240.2C216.8 238.5 217.8 232.8 220.4 230C223 227.2 228.3 224.4 231.7 223.3C235.1 222.2 238.3 222.7 241 223.4C243.7 224.2 246.8 227.1 248 227.8C250.5 231.7 257.8 242.9 262.8 251.1C267.9 259.3 273.8 269.9 278.3 277C282.8 284.1 288.1 291.2 290 294Z" fill="url(#gi1)"/>
<circle cx="280.4" cy="312.4" r="32" fill="url(#gr1)"/>
<path fill="url(#ga1)" d="M262.7 309C263.7 307.6 266.6 302.7 268.9 300.4C271.2 298.1 274.1 296 276.7 295C279.3 294 282.2 293.8 284.4 294.2C286.6 294.6 288.5 296.1 289.9 297.3C291.3 298.5 292.5 300.6 293 301.2L305 320 L275 328 Z"/>
<clipPath id="c2"><path d="M327 417.8C325.6 415.9 324.2 414.1 318.4 406.3C312.6 398.5 300.7 382.5 292 370.8C283.3 359.1 270.6 342.1 266.3 336.3C266.7 334.8 267 330.6 268.5 327C270 323.4 272.5 317.8 275.1 314.4C277.8 311 280.8 308.9 284.4 306.7C288 304.5 291.8 302.5 296.9 301.2C302 299.9 311.8 299.4 314.8 299C317.5 302.8 324.5 313.1 331.1 321.6C337.7 330.1 347.9 342.5 354.4 350.2C360.9 357.9 365.8 363.2 370 367.8C374.2 372.4 377.9 376.3 379.5 378Z"/></clipPath>
<path d="M327 417.8C325.6 415.9 324.2 414.1 318.4 406.3C312.6 398.5 300.7 382.5 292 370.8C283.3 359.1 270.6 342.1 266.3 336.3C266.7 334.8 267 330.6 268.5 327C270 323.4 272.5 317.8 275.1 314.4C277.8 311 280.8 308.9 284.4 306.7C288 304.5 291.8 302.5 296.9 301.2C302 299.9 311.8 299.4 314.8 299C317.5 302.8 324.5 313.1 331.1 321.6C337.7 330.1 347.9 342.5 354.4 350.2C360.9 357.9 365.8 363.2 370 367.8C374.2 372.4 377.9 376.3 379.5 378Z" fill="#FEDEDE" stroke="#FF9191" stroke-width="6" stroke-linejoin="miter" clip-path="url(#c2)"/>
<path d="M336 393C334.4 390.9 334.2 390.7 326.2 380.7C318.2 370.7 294.5 341.1 288.1 333.2C288.8 331.9 290.2 327.6 292.2 325.3C294.2 323 297.1 320.5 300 319.1C302.9 317.7 306.4 316.8 309.3 316.8C312.2 316.8 315.8 318.7 317.1 319.1C322.6 326.8 343.4 355.8 350 365.1C356.6 374.4 355.8 373.4 357 375Z" fill="url(#gi2)"/>
<circle cx="353" cy="399.6" r="34.3" fill="url(#gr2)"/>
<path fill="url(#ga2)" d="M338.5 399.1C339.4 397.5 341.6 392.2 344.1 389.7C346.6 387.2 350.4 385.2 353.5 384.1C356.6 383 361.2 383.4 362.8 383.2L392 416 L368 437 Z"/>
<clipPath id="c3"><path d="M447 559C445.2 556.6 442.2 552.6 436 544.6C429.8 536.6 416.6 519.8 410 511C403.4 502.2 401.7 499.3 396.7 492C391.7 484.7 384.7 474.3 380 467.2C375.3 460.1 372.3 455.1 368.7 449.4C365.1 443.7 359.9 435.8 358.1 433.1C359.1 431.7 361.7 427.5 364 424.5C366.3 421.5 368.9 418.1 371.8 415.2C374.7 412.3 378 409.3 381.1 407.4C384.2 405.5 387.5 404.2 390.4 403.6C393.2 403 396.9 403.6 398.2 403.6C400.5 404.8 405.2 407.2 412.2 410.6C419.2 414 429.6 418.6 440.2 423.8C450.8 429 465.6 436.9 475.6 442C485.6 447.1 492.6 450.7 500 454.5C507.4 458.3 516.7 463.2 520 465Z"/></clipPath>
<path d="M447 559C445.2 556.6 442.2 552.6 436 544.6C429.8 536.6 416.6 519.8 410 511C403.4 502.2 401.7 499.3 396.7 492C391.7 484.7 384.7 474.3 380 467.2C375.3 460.1 372.3 455.1 368.7 449.4C365.1 443.7 359.9 435.8 358.1 433.1C359.1 431.7 361.7 427.5 364 424.5C366.3 421.5 368.9 418.1 371.8 415.2C374.7 412.3 378 409.3 381.1 407.4C384.2 405.5 387.5 404.2 390.4 403.6C393.2 403 396.9 403.6 398.2 403.6C400.5 404.8 405.2 407.2 412.2 410.6C419.2 414 429.6 418.6 440.2 423.8C450.8 429 465.6 436.9 475.6 442C485.6 447.1 492.6 450.7 500 454.5C507.4 458.3 516.7 463.2 520 465Z" fill="#FEDEDE" stroke="#FF9191" stroke-width="6" stroke-linejoin="miter" clip-path="url(#c3)"/>
<path d="M460 523C456.8 520 447.1 511 441 505.3C434.9 499.6 430 495.2 423.5 489C417 482.8 408 474.5 401.8 468.3C395.6 462.1 389.7 455.6 386.5 452C383.3 448.4 383.4 448.2 382.5 446.5C381.6 444.8 381.3 442.5 381.1 441.7C381.2 440.6 381.1 437.5 381.9 435.4C382.7 433.3 383.9 430.8 385.8 429.2C387.7 427.6 391.1 426.3 393.5 425.8C395.9 425.3 399.3 426.1 400.5 426.1C402.4 427.1 403.9 427.8 412.2 432.3C420.4 436.8 440.1 447.7 450 453.3C459.9 458.9 464.4 461.7 471.9 466C479.4 470.3 491.1 476.8 495 479Z" fill="url(#gi3)"/>
<circle cx="501.5" cy="528" r="66.8" fill="url(#gr3)"/>
<path fill="url(#ga3)" d="M476 533.6C476.2 531.3 475.5 524.3 477.4 519.6C479.3 514.9 482.8 508.9 487.2 505.6C491.6 502.3 498.4 500.7 504 500C509.6 499.3 518 501.2 520.8 501.4L560 528 L530 590 L480.2 542 Z"/>
<circle cx="547.2" cy="558.8" r="36.8" fill="#5A7BF5" stroke="#A9B9FC" stroke-width="2.8"/>
<line x1="546.8" y1="578.6" x2="564.5" y2="588.2" stroke="#5DB67A" stroke-width="16.4" stroke-linecap="round"/>
<circle cx="564.5" cy="588.2" r="8.2" fill="#1A9A3A"/>
<line x1="529.5" y1="541.9" x2="546.7" y2="553.2" stroke="#FBCA6B" stroke-width="15.6" stroke-linecap="round"/>
<circle cx="546.7" cy="553.2" r="7.8" fill="#F5AB10"/>
<line x1="560.7" y1="546.5" x2="575.4" y2="556.2" stroke="#ADE5FC" stroke-width="13" stroke-linecap="round"/>
<circle cx="575.4" cy="556.2" r="6.5" fill="#3EBBFA"/>
<line x1="524.9" y1="562.1" x2="545.9" y2="576.1" stroke="#DFB7FB" stroke-width="17.6" stroke-linecap="round"/>
<circle cx="545.9" cy="576.1" r="8.8" fill="#8A46C2"/>
<line x1="566.1" y1="570.7" x2="582.9" y2="581.5" stroke="#F39A9A" stroke-width="15.6" stroke-linecap="round"/>
<circle cx="582.9" cy="581.5" r="7.8" fill="#C23A45"/>
<path fill="#E8530F" d="M211.8 426.1L235.6 448.3L235.6 598.5L211.8 620.6L211.8 615L232.9 595.6L232.9 451.1L211.8 431.8Z"/>
<path fill="#E8530F" d="M527.2 596.9L525.7 600.6L524.1 604.2L522.2 607.8L520.1 611.3L517.7 614.6L515.2 617.8L512.5 620.9L509.6 623.9L506.6 626.7L503.4 629.3L500.1 631.8L496.6 634.1L493.1 636.2L489.4 638.1L485.6 639.7L481.8 641.2L478 642.5L474.1 643.5L470.1 644.4L466.2 644.9L462.3 645.3L458.4 645.4L454.5 645.3L450.7 645L446.9 644.4L443.2 643.6L439.6 642.6L436.2 641.3L432.8 639.8L429.6 638.2L426.5 636.3L423.5 634.2L420.6 632L418 629.6L415.5 626.9L413.2 624.1L411 621.2L409 618.1L407.1 614.9L405.6 611.5L400.6 613L401.7 617L403 621L404.7 624.9L406.6 628.6L408.9 632.1L411.5 635.5L414.4 638.6L417.5 641.6L420.8 644.3L424.3 646.8L428.1 649L432 651L436.1 652.7L440.3 654.1L444.7 655.3L449.1 656.1L453.6 656.7L458.2 657L462.8 657L467.5 656.6L472.1 656L476.7 655.1L481.3 653.9L485.8 652.5L490.3 650.8L494.6 648.7L498.8 646.5L502.9 644L506.9 641.2L510.7 638.3L514.2 635.1L517.6 631.7L520.8 628.2L523.7 624.5L526.4 620.6L528.9 616.6L531.1 612.5L533 608.3L534.7 604L536 599.7Z"/>
<circle cx="531.6" cy="598.3" r="4.65" fill="#E8530F"/>
<circle cx="403" cy="612.3" r="2.6" fill="#E8530F"/>
<path fill="none" stroke="#E8530F" stroke-width="6.4" stroke-linecap="round" stroke-linejoin="round" d="M413.6 597.4Q400 592.6 386.9 590.8"/>
<path fill="#E8530F" d="M383.5 590.5L383.5 591.8L383.5 593.5L383.5 595.5L383.6 597.7L383.6 600L383.7 602.1L383.9 604.1L384 606.2L384.2 608.3L384.4 610.3L384.6 612.3L384.9 614.2L385.1 615.9L385.4 617.5L385.7 619L386 620.5L386.4 622L386.8 623.5L387.3 625.2L387.9 627L388.5 628.8L389.1 630.4L389.5 631.8L389.9 632.8L393.7 631.6L393.4 630.6L393 629.2L392.5 627.5L392 625.8L391.6 624L391.2 622.5L390.9 621L390.7 619.6L390.4 618.2L390.2 616.8L390.1 615.3L389.9 613.6L389.8 611.8L389.7 609.9L389.6 607.9L389.5 605.9L389.5 603.9L389.5 601.9L389.5 599.9L389.6 597.8L389.7 595.6L389.8 593.6L389.8 591.9L389.9 590.7Z"/>
<circle cx="391.8" cy="632.2" r="2" fill="#E8530F"/>
<g font-family="'Liberation Sans','Noto Sans CJK SC',sans-serif" font-size="25.8">
<text x="68" y="449.8" fill="#F5A91A" textLength="49.5" lengthAdjust="spacingAndGlyphs">NFH</text>
<text x="68" y="491.2" fill="#3DB9F7" textLength="51.5" lengthAdjust="spacingAndGlyphs">NFM</text>
<text x="68" y="532.6" fill="#C23340" textLength="44" lengthAdjust="spacingAndGlyphs">NFL</text>
<text x="67.3" y="574.2" fill="#1F9B3E" textLength="140.5" lengthAdjust="spacingAndGlyphs">α-internexin</text>
<text x="68" y="615.4" fill="#8D47C4" textLength="120" lengthAdjust="spacingAndGlyphs">Peripherin</text>
<text x="323.9" y="522.4" fill="#111" text-anchor="middle" font-size="24.7">神经丝蛋白</text>
<text x="323.7" y="552.2" fill="#111" text-anchor="middle" textLength="45.5" lengthAdjust="spacingAndGlyphs">(NF)</text>
</g>
</svg></body></html>
